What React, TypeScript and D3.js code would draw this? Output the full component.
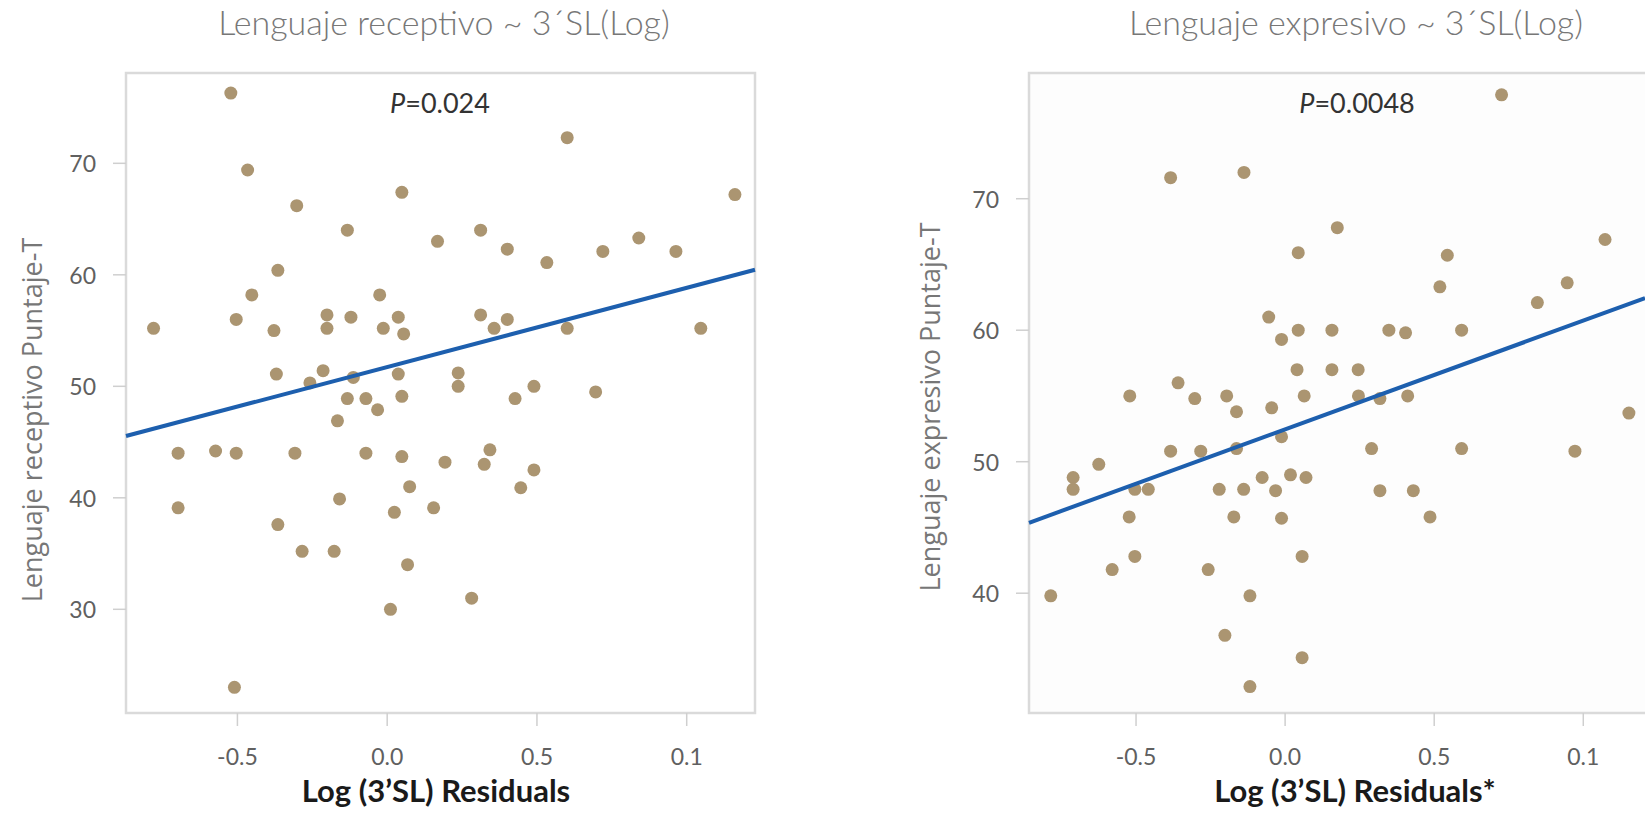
import React from "react";
import * as d3 from "d3";

// ---------- data ----------
const receptivoX = [
  -0.522, -0.466, -0.302, -0.133, 0.049, 0.168, -0.365, -0.452, -0.025, -0.78,
  -0.504, -0.378, -0.201, -0.201, -0.121, -0.013, 0.037, 0.055, -0.37, -0.214,
  -0.258, -0.113, 0.037, 0.601, 1.161, 0.312, 0.401, 0.533, 0.72, 0.84,
  0.964, 0.312, 0.401, 0.357, 0.601, 1.047, 0.237, 0.237, 0.49, 0.427,
  0.696, -0.133, -0.071, -0.032, 0.049, -0.166, -0.698, -0.573, -0.504, -0.308,
  -0.071, 0.049, 0.193, 0.075, -0.698, -0.159, 0.024, 0.155, -0.365, -0.284,
  -0.177, 0.068, 0.011, -0.51, 0.343, 0.324, 0.49, 0.446, 0.282,
];
const receptivoY = [
  76.3, 69.4, 66.2, 64.0, 67.4, 63.0, 60.4, 58.2, 58.2, 55.2,
  56.0, 55.0, 56.4, 55.2, 56.2, 55.2, 56.2, 54.7, 51.1, 51.4,
  50.3, 50.8, 51.1, 72.3, 67.2, 64.0, 62.3, 61.1, 62.1, 63.3,
  62.1, 56.4, 56.0, 55.2, 55.2, 55.2, 51.2, 50.0, 50.0, 48.9,
  49.5, 48.9, 48.9, 47.9, 49.1, 46.9, 44.0, 44.2, 44.0, 44.0,
  44.0, 43.7, 43.2, 41.0, 39.1, 39.9, 38.7, 39.1, 37.6, 35.2,
  35.2, 34.0, 30.0, 23.0, 44.3, 43.0, 42.5, 40.9, 31.0,
];

const expresivoX = [
  -0.384, -0.138, 0.175, 0.044, -0.055, -0.012, 0.044, 0.157, 0.04, 0.157,
  -0.359, 0.726, 1.073, 0.544, 0.519, 0.946, 0.846, 0.348, 0.404, 0.592,
  0.245, 0.246, 0.318, 0.411, -0.521, -0.303, -0.196, -0.163, -0.045, 0.064,
  -0.012, -0.384, -0.283, -0.163, -0.625, -0.711, -0.711, -0.504, -0.459, -0.221,
  -0.139, -0.077, -0.032, 0.018, 0.07, -0.523, -0.172, -0.012, -0.504, -0.58,
  -0.258, 0.057, -0.786, -0.118, -0.202, 0.057, -0.118, 1.153, 0.29, 0.592,
  0.972, 0.318, 0.43, 0.486,
];
const expresivoY = [
  71.6, 72.0, 67.8, 65.9, 61.0, 59.3, 60.0, 60.0, 57.0, 57.0,
  56.0, 77.9, 66.9, 65.7, 63.3, 63.6, 62.1, 60.0, 59.8, 60.0,
  57.0, 55.0, 54.8, 55.0, 55.0, 54.8, 55.0, 53.8, 54.1, 55.0,
  51.9, 50.8, 50.8, 51.0, 49.8, 48.8, 47.9, 47.9, 47.9, 47.9,
  47.9, 48.8, 47.8, 49.0, 48.8, 45.8, 45.8, 45.7, 42.8, 41.8,
  41.8, 42.8, 39.8, 39.8, 36.8, 35.1, 32.9, 53.7, 51.0, 51.0,
  50.8, 47.8, 47.8, 45.8,
];

// regression lines (intercept, slope)
const receptivoFit = [51.73, 7.1];
const expresivoFit = [52.46, 8.27];

const xTickValues = [-0.5, 0, 0.5, 1.0];
const xTickLabels = ["-0.5", "0.0", "0.5", "0.1"];
const receptivoYTicks = [30, 40, 50, 60, 70];
const expresivoYTicks = [40, 50, 60, 70];

const titles = ["Lenguaje receptivo ~ 3´SL(Log)", "Lenguaje expresivo ~ 3´SL(Log)"];
const pLabels = ["0.024", "0.0048"];
const yTitles = ["Lenguaje receptivo Puntaje-T", "Lenguaje expresivo Puntaje-T"];
const xTitles = ["Log (3’SL) Residuals", "Log (3’SL) Residuals*"];

// ---------- layout ----------
const DOT = "#ab9571";
const LINE = "#1d5fae";
const BOX = "#dadada";

type Panel = {
  xs: number[];
  ys: number[];
  fit: number[];
  yTicks: number[];
  xDomain: [number, number];
  yDomain: [number, number];
  left: number;
  right: number;
  boxRight: number;
  top: number;
  bottom: number;
  title: string;
  titleX: number;
  p: string;
  pX: number;
  yTitle: string;
  yTitleX: number;
  yTitleY: number;
  xTitle: string;
  xTitleX: number;
  bg: string;
};

const panels: Panel[] = [
  {
    xs: receptivoX, ys: receptivoY, fit: receptivoFit, yTicks: receptivoYTicks,
    xDomain: [-0.872, 1.228], yDomain: [20.7, 78.1],
    left: 126, right: 755, boxRight: 755, top: 73, bottom: 713,
    title: titles[0], titleX: 444, p: pLabels[0], pX: 440,
    yTitle: yTitles[0], yTitleX: 31, yTitleY: 420,
    xTitle: xTitles[0], xTitleX: 436, bg: "#ffffff",
  },
  {
    xs: expresivoX, ys: expresivoY, fit: expresivoFit, yTicks: expresivoYTicks,
    xDomain: [-0.859, 1.207], yDomain: [30.89, 79.56],
    left: 1029, right: 1645, boxRight: 1665, top: 73, bottom: 713,
    title: titles[1], titleX: 1356, p: pLabels[1], pX: 1357,
    yTitle: yTitles[1], yTitleX: 929, yTitleY: 407,
    xTitle: xTitles[1], xTitleX: 1355, bg: "#fdfdfd",
  },
];

const FONT = "Lato, 'Open Sans', sans-serif";

function PanelView({ pn }: { pn: Panel }) {
  const x = d3.scaleLinear().domain(pn.xDomain).range([pn.left, pn.right]);
  const y = d3.scaleLinear().domain(pn.yDomain).range([pn.bottom, pn.top]);
  const line = d3
    .line<number>()
    .x((v) => x(v))
    .y((v) => y(pn.fit[0] + pn.fit[1] * v));
  const fitPath = line([pn.xDomain[0], pn.xDomain[1]]) || "";
  return (
    <g>
      <text x={pn.titleX} y={35} textAnchor="middle" fontFamily={FONT} fontWeight={300}
        fontSize={34} fill="#777">{pn.title}</text>
      <rect x={pn.left} y={pn.top} width={pn.boxRight - pn.left} height={pn.bottom - pn.top}
        fill={pn.bg} stroke={BOX} strokeWidth={2.5} />
      {pn.yTicks.map((t) => (
        <g key={"y" + t}>
          <line x1={pn.left - 13} x2={pn.left} y1={y(t)} y2={y(t)} stroke="#cfcfcf" strokeWidth={1.5} />
          <text x={pn.left - 30} y={y(t)} textAnchor="end" dominantBaseline="central"
            fontFamily={FONT} fontSize={23} fill="#606060">{t}</text>
        </g>
      ))}
      {xTickValues.map((t, i) => (
        <g key={"x" + t}>
          <line x1={x(t)} x2={x(t)} y1={pn.bottom} y2={pn.bottom + 13} stroke="#cfcfcf" strokeWidth={1.5} />
          <text x={x(t)} y={756} textAnchor="middle" dominantBaseline="central"
            fontFamily={FONT} fontSize={23} fill="#606060">{xTickLabels[i]}</text>
        </g>
      ))}
      <text x={pn.pX} y={113} textAnchor="middle" fontFamily={FONT} fontSize={27} fill="#333">
        <tspan fontStyle="italic">P</tspan>={pn.p}
      </text>
      <g>
        {pn.xs.map((v, i) => (
          <circle key={i} cx={x(v)} cy={y(pn.ys[i])} r={6.5} fill={DOT} />
        ))}
      </g>
      <path d={fitPath} fill="none" stroke={LINE} strokeWidth={4} />
      <text transform={`translate(${pn.yTitleX},${pn.yTitleY}) rotate(-90)`} textAnchor="middle"
        dominantBaseline="central" fontFamily="'Open Sans', sans-serif" fontSize={27} fill="#777">
        {pn.yTitle}
      </text>
      <text x={pn.xTitleX} y={802} textAnchor="middle" fontFamily={FONT} fontWeight={700}
        fontSize={31} fill="#1a1a1a">{pn.xTitle}</text>
    </g>
  );
}

export default function App() {
  return (
    <svg width={1645} height={820} viewBox="0 0 1645 820"
      style={{ position: "absolute", left: 0, top: 0, background: "#fff" }}>
      <rect x={0} y={0} width={1645} height={820} fill="#fff" />
      {panels.map((pn, i) => (
        <PanelView key={i} pn={pn} />
      ))}
    </svg>
  );
}
